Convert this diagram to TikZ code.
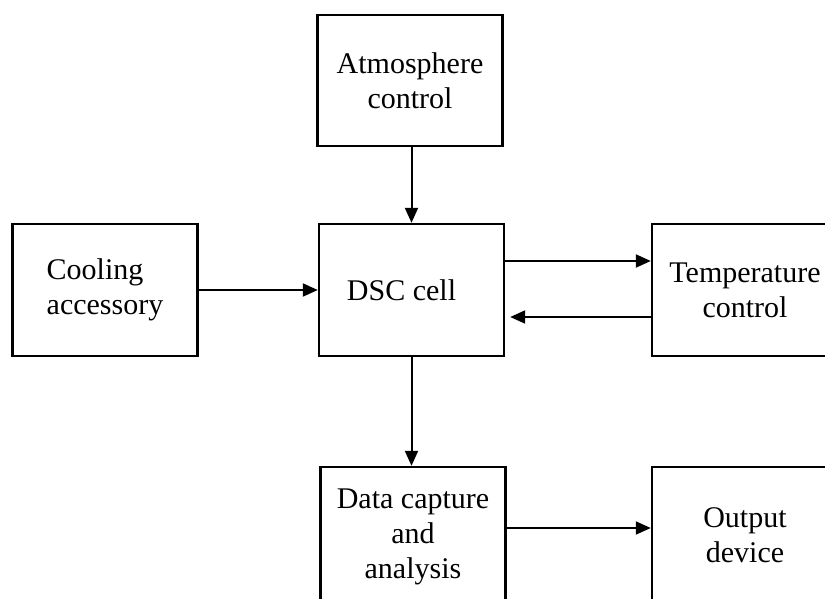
\documentclass[tikz,border=0pt]{standalone}
\usepackage{fontspec}
\setmainfont{Liberation Serif}
\usetikzlibrary{arrows.meta}
\begin{document}
\begin{tikzpicture}[x=1pt,y=-1pt,
  blk/.style={draw=black, line width=2.4pt, minimum width=185pt, minimum height=132pt,
    inner sep=0pt, align=center, font=\fontsize{30}{35}\selectfont},
  conn/.style={line width=2pt, -{Triangle[length=15pt,width=13pt]}}]
\useasboundingbox (0,0) rectangle (825,598);
\clip (0,0) rectangle (825,598);
\fill[white] (0,0) rectangle (825,598);
\node[blk, minimum height=131pt] (atm) at (410,80.5) {Atmosphere\\control};
\node[blk, align=left] (cool) at (105,290) {Cooling\\accessory};
\node[blk] (dsc) at (411.5,290) {DSC cell\hspace{20pt}};
\node[blk, minimum width=186pt] (temp) at (745,290) {Temperature\\control};
\node[blk, minimum height=150pt] (data) at (413,542) {Data capture\\and\\analysis\\[-19pt]};
\node[blk, minimum width=186pt, minimum height=150pt] (out) at (745,542) {Output\\device\\[-22pt]};
\draw[conn] (atm.south -| dsc.north) -- (dsc.north);
\draw[conn] (cool.east) -- (dsc.west);
\draw[conn] ([yshift=29pt]dsc.east) -- ([yshift=29pt]temp.west);
\draw[conn, shorten >=5pt] ([yshift=-27pt]temp.west) -- ([yshift=-27pt]dsc.east);
\draw[conn] (dsc.south) -- (dsc.south |- data.north);
\draw[conn] ([yshift=14pt]data.east) -- ([yshift=14pt]out.west);
\end{tikzpicture}
\end{document}
